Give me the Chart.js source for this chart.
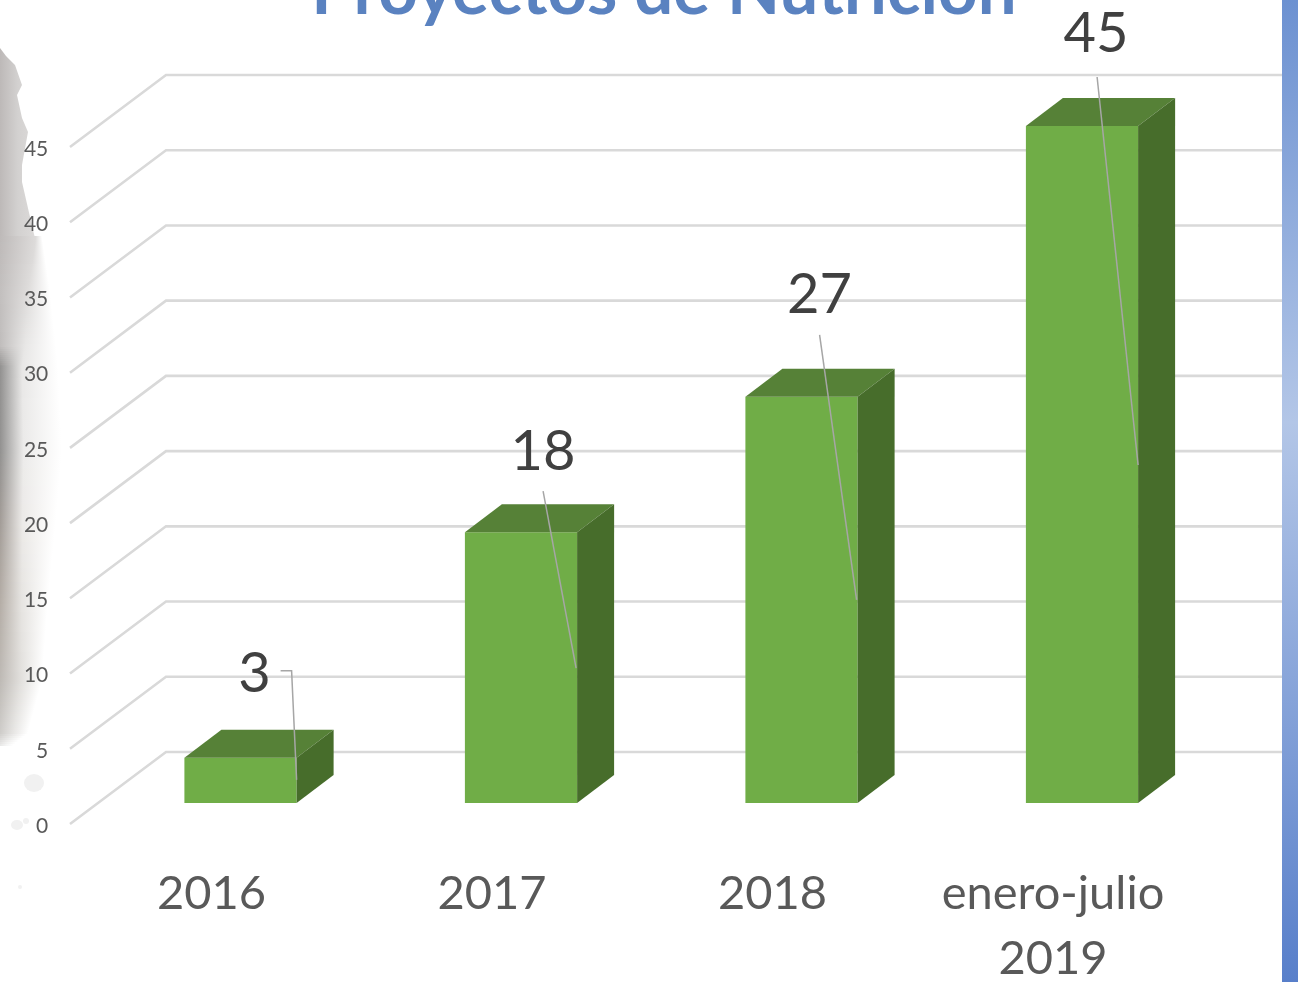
<!DOCTYPE html>
<html lang="es">
<head>
<meta charset="utf-8">
<style>html,body{margin:0;padding:0;background:#fff;overflow:hidden}canvas{display:block}</style>
<script src="https://cdn.jsdelivr.net/npm/chart.js@4"></script>
</head>
<body>
<canvas id="c" width="1298" height="982"></canvas>
<script>
const categories = ['2016', '2017', '2018', ['enero-julio', '2019']];
const proyectos = [3, 18, 27, 45];
const yTickStep = 5;
const yMax = 45;
const chartTitle = 'Proyectos de Nutrición';

const DEPTH_X = 37, DEPTH_Y = 28;          // bar depth
const WALL_LEFT = 166, FLOOR_LEFT = 70, WALL_RIGHT = 1282;
const WALL_UP = 51, FLOOR_DOWN = 21;       // wall/floor offset from the bar plane

// data label centre and leader line, relative to each bar's right-front top corner
const labelPos = [[-42, -84], [-34, -80], [-38, -102], [-42, -92]];
const leaders = [
  [[-16, -87], [-5, -87], [0, 22]],
  [[-34, -41], [-1, 136]],
  [[-38, -62], [-1, 203]],
  [[-41, -49], [0, 339]]
];

// soft edge of the torn paper at the left: y, edge x, colour at x=0, middle colour, middle position
const paperRows = [
  [236, 42, [190,186,185], [221,219,218], 0.85],
  [290, 50, [194,191,190], [222,220,219], 0.55],
  [345, 56, [192,189,188], [232,231,230], 0.45],
  [366, 58, [146,145,144], [232,231,230], 0.38],
  [450, 62, [146,145,144], [236,235,234], 0.38],
  [520, 56, [162,156,151], [236,234,232], 0.4],
  [600, 48, [180,173,166], [230,228,225], 0.45],
  [680, 42, [190,186,181], [226,224,221], 0.5],
  [732, 28, [206,204,201], [232,231,229], 0.5],
  [745, 12, [234,234,234], [246,246,246], 0.5]
];

function mixRow(a, b, t) {
  return a.map((v, i) => Math.round(v + (b[i] - v) * t));
}
const rgb = c => 'rgb(' + c.join(',') + ')';

const scenery = {
  id: 'scenery',
  beforeDraw(chart) {
    const c = chart.ctx;
    c.save();
    // right band
    const band = c.createLinearGradient(0, 0, 0, 982);
    band.addColorStop(0, '#6c91d1');
    band.addColorStop(0.43, '#b3c6e7');
    band.addColorStop(1, '#587fca');
    c.fillStyle = band;
    c.fillRect(1282, 0, 16, 982);

    // torn paper, hard upper part
    const up = [[0,48],[6,56],[15,65],[22,85],[17,95],[22,118],[28,132],[22,165],[22,182],[33,230],[35,238],[0,238]];
    const g1 = c.createLinearGradient(0, 0, 36, 0);
    g1.addColorStop(0, '#bdb9b8');
    g1.addColorStop(0.5, '#d3d1d0');
    g1.addColorStop(1, '#dddbda');
    c.fillStyle = g1;
    c.beginPath();
    up.forEach((p, i) => i ? c.lineTo(p[0], p[1]) : c.moveTo(p[0], p[1]));
    c.closePath();
    c.fill();

    // torn paper, soft lower part
    for (let k = 0; k < paperRows.length - 1; k++) {
      const A = paperRows[k], B = paperRows[k + 1];
      for (let yy = A[0]; yy < B[0]; yy += 2) {
        const t = (yy - A[0]) / (B[0] - A[0]);
        const edge = A[1] + (B[1] - A[1]) * t;
        const g = c.createLinearGradient(0, 0, edge, 0);
        g.addColorStop(0, rgb(mixRow(A[2], B[2], t)));
        g.addColorStop(A[4] + (B[4] - A[4]) * t, rgb(mixRow(A[3], B[3], t)));
        g.addColorStop(1, 'rgba(255,255,255,1)');
        c.fillStyle = g;
        c.fillRect(0, yy, edge, 2);
      }
    }

    // specks
    c.fillStyle = '#f1f1f1';
    [[34,783,10,9],[17,825,6,5],[26,821,3,3],[20,887,2,2]].forEach(s => {
      c.beginPath();
      c.ellipse(s[0], s[1], s[2], s[3], 0, 0, 7);
      c.fill();
    });

    // title, cut off by the top edge
    c.fillStyle = '#5a82c0';
    c.font = 'bold 69px Lato';
    c.textAlign = 'center';
    c.textBaseline = 'alphabetic';
    c.fillText(chartTitle, 664, 14);
    c.restore();
  },
  beforeDatasetsDraw(chart) {
    const c = chart.ctx, y = chart.scales.y;
    c.save();
    c.strokeStyle = '#d9d9d9';
    c.lineWidth = 2.6;
    c.lineJoin = 'miter';
    for (let v = 0; v <= yMax; v += yTickStep) {
      const p = y.getPixelForValue(v);
      c.beginPath();
      c.moveTo(FLOOR_LEFT, p + FLOOR_DOWN);
      c.lineTo(WALL_LEFT, p - WALL_UP);
      c.lineTo(WALL_RIGHT, p - WALL_UP);
      c.stroke();
    }
    c.restore();
  },
  afterDatasetsDraw(chart) {
    const c = chart.ctx;
    const bars = chart.getDatasetMeta(0).data;
    c.save();
    bars.forEach((b, i) => {
      const l = b.x - b.width / 2, r = b.x + b.width / 2;
      const t = b.y, bt = b.base;
      c.fillStyle = '#568137';
      c.beginPath();
      c.moveTo(l, t); c.lineTo(l + DEPTH_X, t - DEPTH_Y);
      c.lineTo(r + DEPTH_X, t - DEPTH_Y); c.lineTo(r, t);
      c.closePath(); c.fill();
      c.fillStyle = '#476d2b';
      c.beginPath();
      c.moveTo(r, t); c.lineTo(r + DEPTH_X, t - DEPTH_Y);
      c.lineTo(r + DEPTH_X, bt - DEPTH_Y); c.lineTo(r, bt);
      c.closePath(); c.fill();

      c.strokeStyle = '#a6a6a6';
      c.lineWidth = 1.5;
      c.beginPath();
      leaders[i].forEach((p, j) => j ? c.lineTo(r + p[0], t + p[1]) : c.moveTo(r + p[0], t + p[1]));
      c.stroke();

      c.fillStyle = '#404040';
      c.font = '56px Lato';
      c.textAlign = 'center';
      c.textBaseline = 'middle';
      c.fillText(String(proyectos[i]), r + labelPos[i][0], t + labelPos[i][1]);
    });
    c.restore();
  }
};

new Chart(document.getElementById('c'), {
  type: 'bar',
  data: {
    labels: categories,
    datasets: [{
      data: proyectos,
      backgroundColor: '#70ad47',
      borderWidth: 0,
      categoryPercentage: 1,
      barPercentage: 0.4
    }]
  },
  plugins: [scenery],
  options: {
    responsive: false,
    animation: false,
    layout: { padding: { top: 126, right: 75.75, left: 0, bottom: 0 } },
    plugins: { legend: { display: false }, tooltip: { enabled: false }, title: { display: false } },
    scales: {
      x: {
        afterFit(s) { s.height = 179; },
        grid: { display: false, drawTicks: false },
        border: { display: false },
        ticks: {
          autoSkip: false, maxRotation: 0, minRotation: 0,
          padding: 58, labelOffset: -29, color: '#595959',
          font: { family: 'Lato', size: 47, lineHeight: 1.39 }
        }
      },
      y: {
        min: 0, max: yMax,
        afterFit(s) { s.width = 100.25; },
        grid: { display: false, drawTicks: false },
        border: { display: false },
        ticks: {
          stepSize: yTickStep, padding: 52, labelOffset: 23, color: '#595959',
          font: { family: 'Lato', size: 21 }
        }
      }
    }
  }
});
</script>
</body>
</html>
